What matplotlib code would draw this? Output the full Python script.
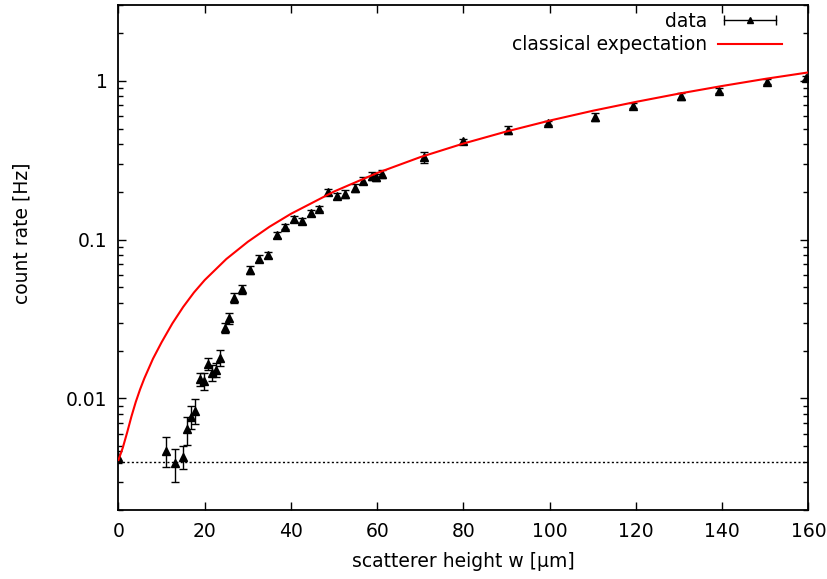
import matplotlib
matplotlib.use("Agg")
import matplotlib.pyplot as plt
import matplotlib.ticker as mticker
from matplotlib.lines import Line2D
from matplotlib.legend_handler import HandlerLine2D

# ──────────────────────────────────────────────
# 1. Data
# ──────────────────────────────────────────────
w_data = [0.0, 11.0, 13.0, 15.0, 16.0, 16.8, 17.8, 18.8, 19.8, 20.8,
          21.7, 22.7, 23.6, 24.8, 25.7, 26.7, 28.7, 30.6, 32.7, 34.7,
          36.7, 38.6, 40.7, 42.6, 44.7, 46.6, 48.7, 50.7, 52.6, 54.9,
          56.7, 58.8, 59.6, 61.0, 70.8, 79.8, 90.4, 99.7, 110.5, 119.4,
          130.4, 139.3, 150.3, 159.4]
rate = [0.0043, 0.0047, 0.0039, 0.0043, 0.0064, 0.0077, 0.0084, 0.0132, 0.0129, 0.0166,
        0.0145, 0.0152, 0.0181, 0.0279, 0.0319, 0.0432, 0.0487, 0.0645, 0.0761, 0.0802,
        0.107, 0.121, 0.135, 0.131, 0.147, 0.157, 0.199, 0.189, 0.194, 0.213,
        0.235, 0.252, 0.247, 0.259, 0.330, 0.416, 0.491, 0.541, 0.590, 0.698,
        0.800, 0.869, 0.990, 1.040]
rate_err = [0.0004, 0.0010, 0.0009, 0.0007, 0.0013, 0.0013, 0.0015, 0.0013, 0.0016, 0.0014,
            0.0017, 0.0015, 0.0020, 0.0020, 0.0025, 0.0030, 0.0030, 0.0035, 0.004, 0.004,
            0.005, 0.005, 0.006, 0.006, 0.006, 0.006, 0.008, 0.009, 0.012, 0.012,
            0.012, 0.014, 0.012, 0.015, 0.027, 0.015, 0.030, 0.015, 0.035, 0.025,
            0.040, 0.030, 0.035, 0.030]

# classical expectation curve
w_curve = [0, 1, 2, 3, 4, 5, 6, 8, 10, 12.5, 15, 17.5, 20, 25, 30, 35, 40,
           50, 60, 70, 80, 90, 100, 110, 120, 130, 140, 150, 160]
rate_curve = [0.0041, 0.0049, 0.0061, 0.0077, 0.0095, 0.0114, 0.0134, 0.0178,
              0.0226, 0.0297, 0.0377, 0.0465, 0.0557, 0.0755, 0.0970, 0.1205,
              0.1455, 0.201, 0.263, 0.331, 0.403, 0.480, 0.562, 0.648, 0.737,
              0.831, 0.928, 1.029, 1.13]

background = 0.004

x_ticks = [0, 20, 40, 60, 80, 100, 120, 140, 160]

# ──────────────────────────────────────────────
# 2. Plot
# ──────────────────────────────────────────────
plt.rcParams['font.family'] = ['DejaVu Sans']
FS = 13.5

fig = plt.figure(figsize=(8.28, 5.79), dpi=100)
ax = fig.add_axes([0.1431, 0.12, 0.8333, 0.8713])

ax.axhline(background, color='black', lw=1.0, ls=(0, (1.5, 1.7)), zorder=1)

ax.errorbar(w_data, rate, yerr=rate_err, fmt='^', color='black', ms=5.5,
            elinewidth=1.0, capsize=2.8, capthick=1.0, zorder=2)

ax.plot(w_curve, rate_curve, color='#ff0000', lw=1.5, zorder=3)

ax.set_yscale('log')
ax.set_xlim(0, 160)
ax.set_ylim(0.002, 3)

ax.set_xticks(x_ticks)
ax.xaxis.set_minor_locator(mticker.NullLocator())
ax.yaxis.set_major_locator(mticker.LogLocator(base=10))
ax.yaxis.set_minor_locator(mticker.LogLocator(base=10, subs=range(2, 10)))
ax.yaxis.set_major_formatter(mticker.FuncFormatter(lambda v, _: f"{v:g}"))
ax.yaxis.set_minor_formatter(mticker.NullFormatter())

ax.tick_params(which='both', direction='in', top=True, right=True,
               labelsize=FS, width=1.0)
ax.tick_params(which='major', length=6)
ax.tick_params(which='minor', length=3.5)
ax.tick_params(axis='x', pad=9)
ax.tick_params(axis='y', pad=8)

for sp in ax.spines.values():
    sp.set_linewidth(1.3)

ax.set_xlabel("scatterer height w [μm]", fontsize=FS)
ax.set_ylabel("count rate [Hz]", fontsize=FS)
ax.xaxis.set_label_coords(0.5, -0.104)
ax.xaxis.label.set_verticalalignment('center')
ax.yaxis.set_label_coords(-0.14, 0.548)
ax.yaxis.label.set_verticalalignment('center')

# legend: text on the left, sample on the right (gnuplot style)
cap_line = Line2D([], [], color='black', lw=1.0, marker='|', ms=7, mew=1.0)
tri = Line2D([], [], ls='none', color='black', marker='^', ms=5)
red_line = Line2D([], [], color='#ff0000', lw=1.5)
ax.legend([(cap_line, tri), red_line], ["data", "classical expectation"],
          handler_map={cap_line: HandlerLine2D(numpoints=2),
                       tri: HandlerLine2D(numpoints=1)},
          loc='upper right', frameon=False, markerfirst=False,
          fontsize=FS, handlelength=3.4, handletextpad=0.6,
          labelspacing=0.25, borderaxespad=0.3, borderpad=0.3,
          bbox_to_anchor=(0.978, 1.009))

fig.savefig("out.png", dpi=100)
